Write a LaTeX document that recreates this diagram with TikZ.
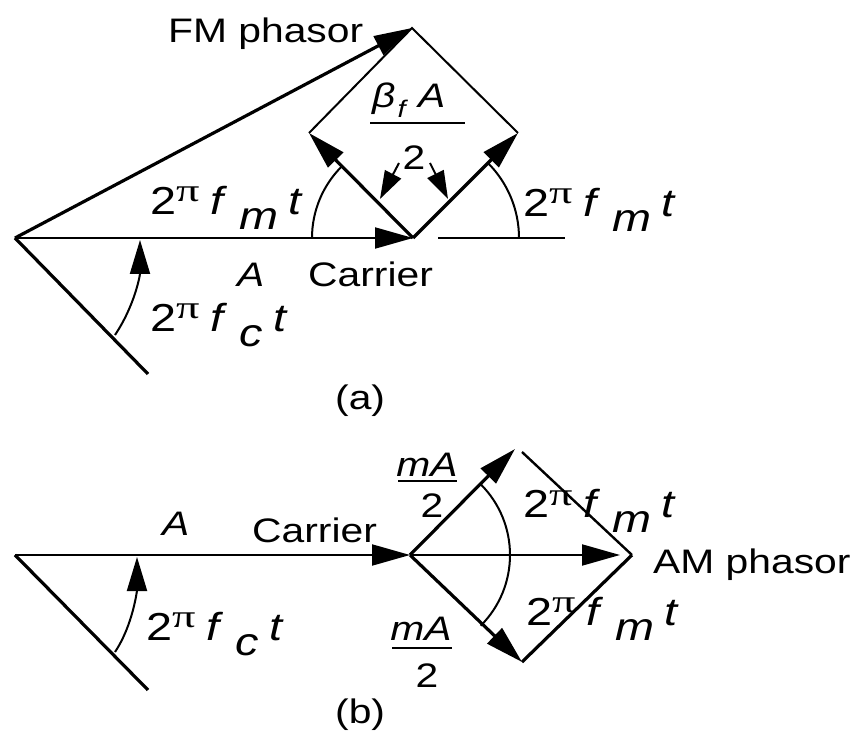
\documentclass[tikz,border=0pt]{standalone}
\usepackage{graphicx}
\usepackage{fontspec}
\setmainfont[FakeStretch=1.2]{Liberation Sans}
\newfontfamily\piserif{Liberation Serif}
\usetikzlibrary{arrows.meta}
\newcommand{\tpf}[1]{{\fontsize{39}{39}\selectfont 2\raisebox{13pt}{\scalebox{1.45}[1]{\fontsize{32}{32}\piserif π}}\hspace{11pt}\textit{f}\hspace{12pt}\raisebox{-15pt}{\textit{#1}}\hspace{10pt}\textit{t}}}
\begin{document}
\begin{tikzpicture}[x=1pt,y=-1pt,
  every node/.style={inner sep=0pt,font=\fontsize{34}{34}\selectfont},
  lbl/.style={anchor=base west},
  thickln/.style={line width=3.2pt},
  thinln/.style={line width=2pt},
  bigarrow/.style={-{Triangle[length=38pt,width=21pt]}},
  smallarrow/.style={-{Triangle[length=28pt,width=18pt]}},
  arcarrow/.style={-{Triangle[length=34pt,width=20pt]}}]
\useasboundingbox (0,0) rectangle (855,735);
\fill[white] (0,0) rectangle (855,735);
% ---------- (a) ----------
\coordinate (O) at (15,238);
\coordinate (C) at (413,238);
\coordinate (Lw) at (148,374);
\coordinate (T) at (412,28);
\coordinate (L) at (309,133);
\coordinate (R) at (518,133);
\coordinate (H1) at (438,238);
\coordinate (H2) at (565,238);
\coordinate (s1) at (399,163);
\coordinate (s1t) at (380,199);
\coordinate (s2) at (430,163);
\coordinate (s2t) at (448,199);
\coordinate (ca1) at (115,335);
\coordinate (ca2) at (140,240);
\coordinate (fb1) at (370,123);
\coordinate (fb2) at (465,123);

\draw[thinln,bigarrow] (O) -- (C);
\draw[thickln,bigarrow] (O) -- (T);
\draw[thickln] (O) -- (Lw);
\draw[thickln,bigarrow] (C) -- (L);
\draw[thickln,bigarrow] (C) -- (R);
\draw[thinln] (L) -- (T) -- (R);
\draw[thinln] (C) ++(180:101) arc[start angle=180,end angle=225,radius=101];
\draw[thinln] (C) ++(0:106) arc[start angle=0,end angle=-45,radius=106];
\draw[line width=2.6pt] (H1) -- (H2);
\draw[thinln,smallarrow] (s1) -- (s1t);
\draw[thinln,smallarrow] (s2) -- (s2t);
\draw[thinln,arcarrow] (ca1) .. controls (135,305) and (140,275) .. (ca2);
\draw[thinln] (fb1) -- (fb2);

\node[lbl] (fm) at (168,43) {FM phasor};
\node[lbl] (bfa) at (372,108) {\textit{β}\hspace{2pt}\raisebox{-10pt}{\fontsize{24}{24}\selectfont\textit{f}}\hspace{10pt}\textit{A}};
\node[anchor=base] (two) at (414,170) {2};
\node[lbl] (wl) at (150,215) {\tpf{m}};
\node[lbl] (wr) at (523,217) {\tpf{m}};
\node[lbl] (Aa) at (237,287) {\textit{A}};
\node[lbl] (cara) at (308,287) {Carrier};
\node[lbl] (wc) at (150,332) {\tpf{c}};
\node[lbl] (capa) at (335,410) {(a)};
% ---------- (b) ----------
\coordinate (O2) at (15,555);
\coordinate (C2) at (410,555);
\coordinate (Lw2) at (148,690);
\coordinate (U) at (515,449);
\coordinate (U2) at (522,452);
\coordinate (P) at (632,555);
\coordinate (Pt) at (620,555);
\coordinate (D) at (522,662);
\coordinate (cb1) at (115,652);
\coordinate (cb2) at (137,557);
\coordinate (ub1) at (398,481);
\coordinate (ub2) at (457,481);
\coordinate (lb1) at (392,648);
\coordinate (lb2) at (452,648);

\draw[thinln,bigarrow] (O2) -- (C2);
\draw[thinln,bigarrow] (C2) -- (Pt);
\draw[thickln] (O2) -- (Lw2);
\draw[thickln,bigarrow] (C2) -- (U);
\draw[thickln,bigarrow] (C2) -- (D);
\draw[line width=2.4pt] (U2) -- (P);
\draw[thickln] (D) -- (P);
\draw[thinln] (C2) ++(-45:100) arc[start angle=-45,end angle=45,radius=100];
\draw[thinln,arcarrow] (cb1) .. controls (133,625) and (137,590) .. (cb2);
\draw[thinln] (ub1) -- (ub2);
\draw[thinln] (lb1) -- (lb2);

\node[lbl] (Ab) at (162,535) {\textit{A}};
\node[lbl] (carb) at (252,542) {Carrier};
\node[lbl] (wcb) at (146,640) {\tpf{c}};
\node[anchor=base] (ma1) at (427,477) {\textit{mA}};
\node[anchor=base] (two1) at (432,518) {2};
\node[anchor=base] (ma2) at (421,640) {\textit{mA}};
\node[anchor=base] (two2) at (427,687) {2};
\node[lbl] (wu) at (523,518) {\tpf{m}};
\node[lbl] (wd) at (526,625) {\tpf{m}};
\node[lbl] (am) at (653,573) {AM phasor};
\node[lbl] (capb) at (335,723) {(b)};
\end{tikzpicture}
\end{document}
